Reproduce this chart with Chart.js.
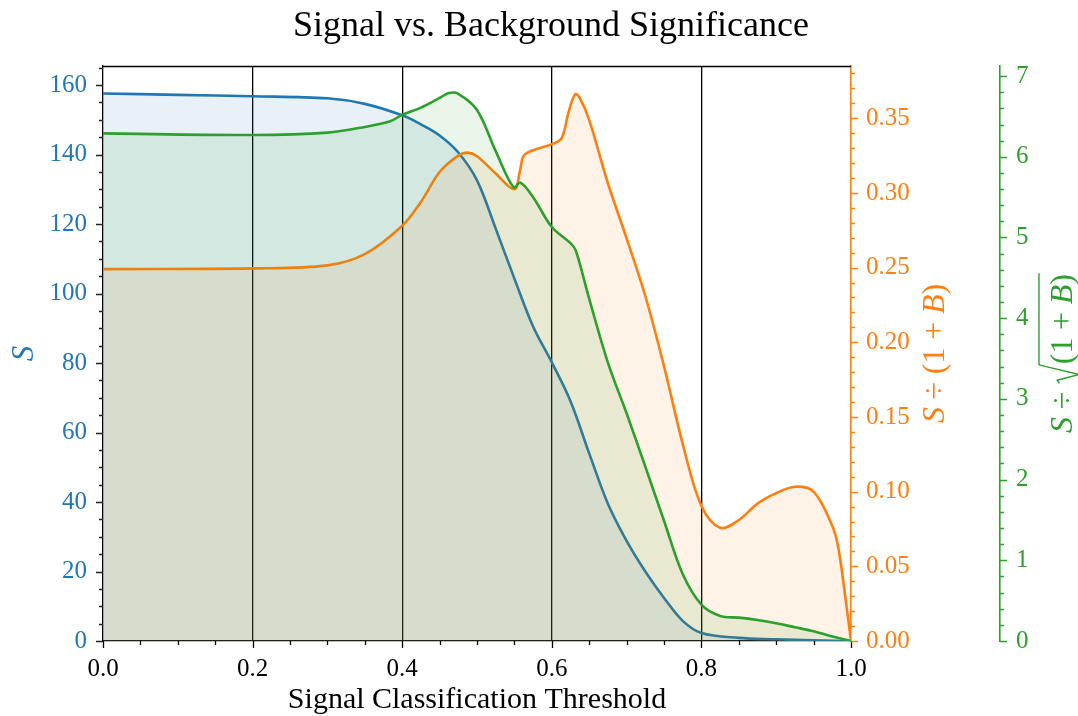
<!DOCTYPE html>
<html>
<head>
<meta charset="utf-8">
<script src="https://cdn.jsdelivr.net/npm/chart.js@4.4.1/dist/chart.umd.min.js"></script>
<style>
  html, body { margin: 0; padding: 0; background: #fff; }
</style>
</head>
<body>
<canvas id="sigChart" width="1078" height="716"></canvas>
<script>
// threshold values and the three significance curves
const blueX  = [0, 0.1, 0.2, 0.3, 0.35, 0.4, 0.425, 0.45, 0.475, 0.5, 0.525, 0.55, 0.575, 0.6, 0.625, 0.65, 0.675, 0.7, 0.725, 0.75, 0.775, 0.8, 0.85, 0.9, 0.95, 1.0];
const signalS = [157.6, 157.2, 156.8, 156.2, 154.6, 151.3, 148.7, 145.5, 140.6, 132.6, 118.7, 104.3, 90.5, 80.2, 69.0, 54.0, 39.5, 28.8, 20.0, 12.4, 5.8, 2.3, 0.9, 0.5, 0.2, 0];

const orangeX = [0, 0.2, 0.3, 0.35, 0.4, 0.425, 0.45, 0.475, 0.4875, 0.5, 0.525, 0.55, 0.5575, 0.5625, 0.575, 0.6, 0.613, 0.622, 0.631, 0.637, 0.65, 0.675, 0.7, 0.725, 0.75, 0.775, 0.8, 0.825, 0.85, 0.875, 0.9, 0.925, 0.95, 0.975, 0.983, 0.992, 1.0];
const sOver1B = [0.249, 0.2495, 0.2515, 0.259, 0.278, 0.294, 0.314, 0.325, 0.327, 0.3246, 0.313, 0.3025, 0.315, 0.325, 0.3286, 0.3327, 0.3365, 0.3533, 0.366, 0.364, 0.3488, 0.3065, 0.2696, 0.231, 0.184, 0.132, 0.0905, 0.0758, 0.081, 0.092, 0.099, 0.1033, 0.100, 0.077, 0.0626, 0.031, 0];

const greenX = [0, 0.2, 0.3, 0.35, 0.384, 0.4, 0.425, 0.45, 0.4625, 0.475, 0.5, 0.525, 0.549, 0.558, 0.575, 0.6, 0.625, 0.632, 0.65, 0.675, 0.7, 0.725, 0.75, 0.775, 0.8, 0.825, 0.85, 0.875, 0.9, 0.925, 0.95, 0.975, 1.0];
const sOverSqrt = [6.29, 6.27, 6.30, 6.37, 6.44, 6.52, 6.61, 6.73, 6.79, 6.78, 6.58, 6.07, 5.62, 5.68, 5.50, 5.13, 4.93, 4.84, 4.24, 3.45, 2.82, 2.16, 1.49, 0.83, 0.45, 0.31, 0.29, 0.26, 0.22, 0.17, 0.12, 0.056, 0];

const xTicks = [0, 0.2, 0.4, 0.6, 0.8, 1.0];

const BLUE = '#1f77b4';
const ORANGE = '#ff7f0e';
const GREEN = '#2ca02c';
const SERIF = '"Liberation Serif", "DejaVu Serif", serif';

function pts(xs, ys) {
  return xs.map((x, i) => ({x: x, y: ys[i]}));
}

// minor/major tick marks, top spine, titles
function drawTicks(ctx, scale, minor, ratio, color, side) {
  const n = Math.round((scale.max - scale.min) / minor + 1e-6);
  ctx.strokeStyle = color;
  ctx.lineWidth = 1.3;
  ctx.beginPath();
  for (let i = 0; i <= n; i++) {
    const v = scale.min + i * minor;
    if (v > scale.max + 1e-9) break;
    const len = (i % ratio === 0) ? 7 : 4;
    const p = Math.round(scale.getPixelForValue(v)) + 0.5;
    if (side === 'bottom') {
      ctx.moveTo(p, scale.top); ctx.lineTo(p, scale.top + len);
    } else if (side === 'left') {
      ctx.moveTo(scale.right, p); ctx.lineTo(scale.right - len, p);
    } else {
      ctx.moveTo(scale.left, p); ctx.lineTo(scale.left + len, p);
    }
  }
  ctx.stroke();
}

function richText(ctx, parts, cx, cy, size, color) {
  ctx.save();
  ctx.translate(cx, cy);
  ctx.rotate(-Math.PI / 2);
  ctx.fillStyle = color;
  ctx.strokeStyle = color;
  ctx.textBaseline = 'alphabetic';
  const fontOf = p => (p.it ? 'italic ' : '') + size + 'px ' + SERIF;
  let total = 0;
  const w = parts.map(p => {
    let ww;
    if (p.gap !== undefined) ww = p.gap * size;
    else if (p.rad) ww = 0.62 * size;
    else { ctx.font = fontOf(p); ww = ctx.measureText(p.t).width; }
    total += ww;
    return ww;
  });
  let x = -total / 2;
  const base = 0.3 * size;
  let radStart = null;
  parts.forEach((p, i) => {
    if (p.rad) {
      radStart = x;
      ctx.lineWidth = 1.4;
      ctx.beginPath();
      ctx.moveTo(x + 0.02 * size, base - 0.38 * size);
      ctx.lineTo(x + 0.12 * size, base - 0.45 * size);
      ctx.lineTo(x + 0.3 * size, base + 0.22 * size);
      ctx.lineTo(x + 0.6 * size, base - 1.02 * size);
      ctx.stroke();
    } else if (p.t) {
      ctx.font = fontOf(p);
      ctx.fillText(p.t, x, base);
    }
    x += w[i];
  });
  if (radStart !== null) {
    ctx.beginPath();
    ctx.moveTo(radStart + 0.6 * size, base - 1.02 * size);
    ctx.lineTo(x + 0.02 * size, base - 1.02 * size);
    ctx.stroke();
  }
  ctx.restore();
}

const decorPlugin = {
  id: 'decor',
  afterDraw(chart) {
    const ctx = chart.ctx;
    const a = chart.chartArea;
    const sc = chart.scales;
    ctx.save();
    // top spine
    ctx.strokeStyle = '#000';
    ctx.lineWidth = 1.3;
    ctx.beginPath();
    ctx.moveTo(a.left, a.top + 0.5);
    ctx.lineTo(a.right, a.top + 0.5);
    ctx.stroke();

    drawTicks(ctx, sc.x, 0.05, 4, '#000', 'bottom');
    drawTicks(ctx, sc.yS, 5, 4, '#222', 'left');
    drawTicks(ctx, sc.yO, 0.01, 5, ORANGE, 'right');
    drawTicks(ctx, sc.yG, 0.2, 5, GREEN, 'right');

    // chart title
    ctx.fillStyle = '#000';
    ctx.font = '36px ' + SERIF;
    ctx.textAlign = 'center';
    ctx.textBaseline = 'alphabetic';
    ctx.fillText('Signal vs. Background Significance', 551, 36);

    // x title
    ctx.font = '30px ' + SERIF;
    ctx.fillText('Signal Classification Threshold', (a.left + a.right) / 2, 708);
    ctx.textAlign = 'left';

    const midY = (a.top + a.bottom) / 2;
    richText(ctx, [{t: 'S', it: true}], 24, midY, 31, BLUE);
    richText(ctx, [
      {t: 'S', it: true}, {gap: 0.24}, {t: '÷'}, {gap: 0.24}, {t: '(1'}, {gap: 0.24},
      {t: '+'}, {gap: 0.24}, {t: 'B', it: true}, {t: ')'}
    ], 934, midY, 32, ORANGE);
    richText(ctx, [
      {t: 'S', it: true}, {gap: 0.24}, {t: '÷'}, {gap: 0.24}, {rad: true}, {t: '(1'}, {gap: 0.24},
      {t: '+'}, {gap: 0.24}, {t: 'B', it: true}, {t: ')'}
    ], 1062, midY, 32, GREEN);
    ctx.restore();
  }
};

const tickFont = {family: SERIF, size: 25};

function series(label, data, axis, color, fillColor, order) {
  return {
    label: label,
    data: data,
    yAxisID: axis,
    borderColor: color,
    backgroundColor: fillColor,
    fill: 'origin',
    borderWidth: 2.6,
    pointRadius: 0,
    tension: 0.35,
    order: order
  };
}

const sigChart = new Chart(document.getElementById('sigChart').getContext('2d'), {
  type: 'line',
  data: {
    datasets: [
      series('S', pts(blueX, signalS), 'yS', BLUE, 'rgba(31,119,180,0.10)', 3),
      series('S/(1+B)', pts(orangeX, sOver1B), 'yO', ORANGE, 'rgba(255,127,14,0.10)', 2),
      series('S/sqrt(1+B)', pts(greenX, sOverSqrt), 'yG', GREEN, 'rgba(44,160,44,0.10)', 1)
    ]
  },
  options: {
    responsive: false,
    animation: false,
    layout: {padding: {top: 66, left: 0, right: 0, bottom: 0}},
    plugins: {legend: {display: false}, tooltip: {enabled: false}, title: {display: false}},
    scales: {
      x: {
        type: 'linear',
        position: 'bottom',
        min: 0,
        max: 1,
        afterBuildTicks: s => { s.ticks = xTicks.map(v => ({value: v})); },
        ticks: {padding: 13, color: '#000', font: tickFont, callback: v => v.toFixed(1), maxRotation: 0},
        grid: {
          drawTicks: false,
          lineWidth: 1.3,
          color: c => {
            const v = c.tick ? c.tick.value : 0;
            return (v > 0.01 && v < 0.99) ? '#000' : 'rgba(0,0,0,0)';
          }
        },
        border: {color: '#000', width: 1.3},
        afterFit: s => { s.height = 75; }
      },
      yS: {
        position: 'left',
        min: 0,
        max: 165.5,
        ticks: {stepSize: 20, includeBounds: false, padding: 16, color: BLUE, font: tickFont},
        grid: {drawOnChartArea: false, drawTicks: false},
        border: {color: '#000', width: 1.3},
        afterFit: s => { s.width = 103; }
      },
      yO: {
        position: 'right',
        weight: 0,
        min: 0,
        max: 0.385,
        ticks: {stepSize: 0.05, includeBounds: false, padding: 15, color: ORANGE, font: tickFont, callback: v => v.toFixed(2)},
        grid: {drawOnChartArea: false, drawTicks: false},
        border: {color: ORANGE, width: 1.6},
        afterFit: s => { s.width = 149; }
      },
      yG: {
        position: 'right',
        weight: 1,
        min: 0,
        max: 7.125,
        ticks: {stepSize: 1, includeBounds: false, padding: 16, color: GREEN, font: tickFont},
        grid: {drawOnChartArea: false, drawTicks: false},
        border: {color: GREEN, width: 1.6},
        afterFit: s => { s.width = 78; }
      }
    }
  },
  plugins: [decorPlugin]
});
</script>
</body>
</html>
